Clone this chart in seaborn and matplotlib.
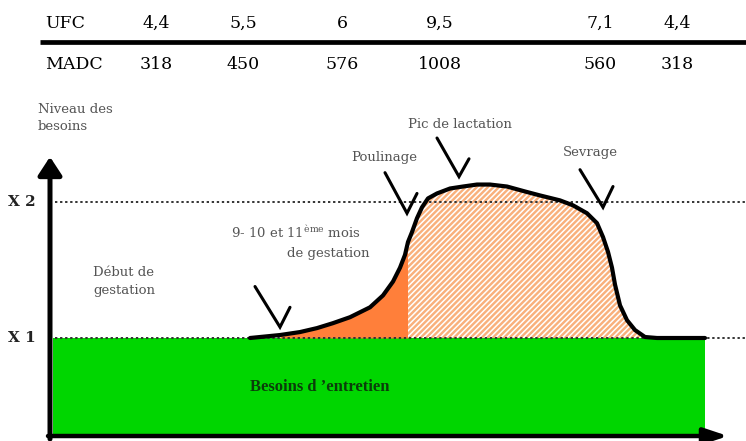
import numpy as np
import matplotlib
matplotlib.use("Agg")
import matplotlib.pyplot as plt
import seaborn as sns

temps = [250, 280, 300, 317, 333, 350, 370, 383, 393, 400, 405, 408, 412, 417,
         422, 428, 437, 450, 463, 477, 490, 507, 525, 540, 560, 573, 587, 597,
         603, 608, 612, 615, 620, 627, 635, 645, 657, 705]
besoins = [1.00, 1.03, 1.06, 1.10, 1.15, 1.21, 1.31, 1.43, 1.57, 1.71, 1.84, 1.97,
           2.07, 2.21, 2.32, 2.41, 2.46, 2.51, 2.53, 2.55, 2.55, 2.53, 2.48, 2.44,
           2.39, 2.34, 2.26, 2.16, 2.02, 1.87, 1.71, 1.54, 1.33, 1.18, 1.08, 1.01,
           1.00, 1.00]
niveau_x1 = 1.0
niveau_x2 = 2.37
debut_poulinage = 408

ufc = ["4,4", "5,5", "6", "9,5", "7,1", "4,4"]
madc = ["318", "450", "576", "1008", "560", "318"]
col_x = [156, 243, 342, 440, 600, 677]

# étapes : (texte, x, y) et coches (x, y)
etapes = [
    ("Poulinage", 384, 2.82),
    ("Pic de lactation", 460, 3.16),
    ("Sevrage", 590, 2.87),
]
coches = [
    ([255, 280, 290], [1.52, 1.11, 1.31]),
    ([385, 407, 417], [2.67, 2.26, 2.46]),
    ([437, 459, 469], [3.02, 2.63, 2.81]),
    ([580, 603, 613], [2.70, 2.32, 2.53]),
]

sns.set_theme(style="white")
plt.rcParams["font.family"] = ["DejaVu Serif", "DejaVu Sans"]
plt.rcParams["mathtext.fontset"] = "dejavuserif"
plt.rcParams["hatch.linewidth"] = 1.1

fig = plt.figure(figsize=(7.46, 4.41), dpi=100)
ax = fig.add_axes([0, 0, 1, 1])
ax.set_xlim(0, 746)
ax.set_ylim(-0.0404, 4.414)
ax.axis("off")

t = np.array(temps)
b = np.array(besoins)

# besoins d'entretien
ax.fill_between([53, 705], 0.01, niveau_x1, color="#00d600", lw=0, zorder=1)

# gestation (orange plein) puis lactation (hachuré)
m1 = (t >= 280) & (t <= debut_poulinage)
ax.fill_between(t[m1], niveau_x1, b[m1], color="#ff7f3a", lw=0, zorder=2)
m2 = (t >= debut_poulinage) & (t <= 657)
ax.fill_between(t[m2], niveau_x1, b[m2], facecolor="#f9b07c", edgecolor="white",
                hatch="//////", lw=0, zorder=2)

# lignes X1 / X2
for niv in (niveau_x1, niveau_x2):
    ax.plot([55, 746], [niv, niv], color="#333333", lw=1.4,
            linestyle=(0, (1.2, 1.4)), zorder=3)

# courbe des besoins
sns.lineplot(x=temps, y=besoins, ax=ax, color="black", lw=3, sort=False,
             estimator=None, zorder=4, solid_joinstyle="round")

for xs, ys in coches:
    ax.plot(xs, ys, color="black", lw=2.2, solid_joinstyle="miter", zorder=5)

# axes fléchés
ax.annotate("", xy=(50, 2.83), xytext=(50, -0.02),
            arrowprops=dict(arrowstyle="-|>,head_length=0.55,head_width=0.36",
                            mutation_scale=20, lw=3.6, color="black",
                            shrinkA=0, shrinkB=0), zorder=6)
ax.annotate("", xy=(728, 0.01), xytext=(48, 0.01),
            arrowprops=dict(arrowstyle="-|>,head_length=0.72,head_width=0.24",
                            mutation_scale=20, lw=3.2, color="black",
                            shrinkA=0, shrinkB=0), zorder=6)

# tableau UFC / MADC
ax.plot([40, 746], [3.99, 3.99], color="black", lw=3.4, solid_capstyle="butt")
ax.text(45, 4.18, "UFC", fontsize=12.5, color="black", ha="left", va="center")
ax.text(45, 3.76, "MADC", fontsize=12.5, color="black", ha="left", va="center")
for x, u, m in zip(col_x, ufc, madc):
    ax.text(x, 4.18, u, fontsize=12.5, color="black", ha="center", va="center")
    ax.text(x, 3.76, m, fontsize=12.5, color="black", ha="center", va="center")

gris = "#555555"
ax.text(38, 3.22, "Niveau des\nbesoins", fontsize=9.5, color=gris, ha="left",
        va="center", linespacing=1.45)
ax.text(8, niveau_x2, "X 2", fontsize=11, fontweight="bold", color="#222222",
        ha="left", va="center")
ax.text(8, niveau_x1, "X 1", fontsize=11, fontweight="bold", color="#222222",
        ha="left", va="center")
ax.text(93, 1.57, "Début de\ngestation", fontsize=9.5, color=gris, ha="left",
        va="center", linespacing=1.45)
ax.text(296, 2.06, r"9- 10 et 11$^{\mathrm{ème}}$ mois", fontsize=9.5, color=gris,
        ha="center", va="center")
ax.text(328, 1.85, "de gestation", fontsize=9.5, color=gris, ha="center", va="center")
for txt, x, y in etapes:
    ax.text(x, y, txt, fontsize=9.5, color=gris, ha="center", va="center")

ax.text(320, 0.505, "Besoins d \u2019entretien", fontsize=12, fontweight="bold",
        family="Liberation Serif", color="#0b3d0b", ha="center", va="center")

fig.savefig("out.png", dpi=100)
